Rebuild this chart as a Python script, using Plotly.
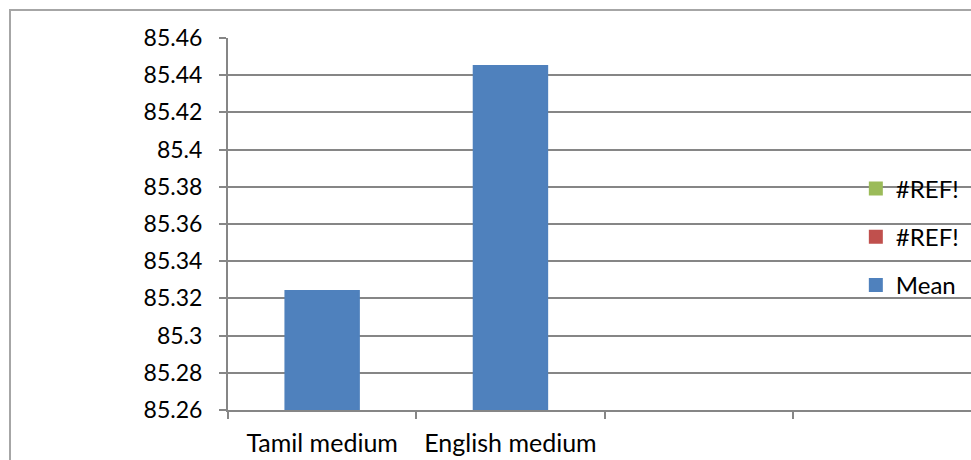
import plotly.graph_objects as go

# Categories along the x axis (the last two slots are empty)
categories = ["Tamil medium", "English medium", " ", "  "]
mean_values = [85.324, 85.445, None, None]

# Series that only appear in the legend
ref_green = [None, None, None, None]
ref_red = [None, None, None, None]

# Y axis ticks
y_tick_values = [85.26, 85.28, 85.30, 85.32, 85.34, 85.36, 85.38, 85.40, 85.42, 85.44, 85.46]
y_tick_labels = ["85.26", "85.28", "85.3", "85.32", "85.34", "85.36", "85.38", "85.4", "85.42", "85.44", "85.46"]

FONT = "Lato"
GRID = "#868686"
GREEN, RED, BLUE = "#9BBB59", "#C0504D", "#4F81BD"

fig = go.Figure()
fig.add_trace(go.Bar(x=categories, y=ref_green, name="#REF!", width=0.39, legendgroup="a",
                     marker=dict(color=GREEN, line=dict(color=GREEN, width=2))))
fig.add_trace(go.Bar(x=categories, y=ref_red, name="#REF!", width=0.39, legendgroup="b",
                     marker=dict(color=RED, line=dict(color=RED, width=2))))
fig.add_trace(go.Bar(x=categories, y=mean_values, name="Mean", width=0.39, legendgroup="c",
                     marker=dict(color=BLUE, line=dict(color=BLUE, width=2))))

W, H = 971, 460
ml, mr, mt, mb = 228, 0, 38, 50
pw, ph = W - ml - mr, H - mt - mb

# outer chart border in paper coordinates
bx0 = (10 - ml) / pw
by1 = (H - 10 - mb) / ph

fig.update_layout(
    width=W, height=H,
    margin=dict(l=ml, r=mr, t=mt, b=mb),
    paper_bgcolor="white", plot_bgcolor="white",
    barmode="overlay",
    font=dict(family=FONT, size=23, color="#000000"),
    showlegend=True,
    legend=dict(x=0.845, y=0.465, xanchor="left", yanchor="middle",
                bgcolor="rgba(0,0,0,0)", traceorder="grouped",
                tracegroupgap=14, font=dict(family=FONT, size=24)),
    xaxis=dict(type="category", categoryorder="array", categoryarray=categories,
               range=[-0.5, -0.5 + pw / 188.3], tickson="boundaries",
               ticks="outside", ticklen=7, tickcolor=GRID, tickwidth=2,
               showgrid=False, showline=True, linecolor=GRID, linewidth=2,
               zeroline=False, ticklabelstandoff=10, tickfont=dict(family=FONT, size=25)),
    yaxis=dict(range=[85.26, 85.46], tickmode="array", tickvals=y_tick_values,
               ticktext=y_tick_labels, ticks="outside", ticklen=7, tickcolor=GRID,
               tickwidth=2, showgrid=True, gridcolor=GRID, gridwidth=2,
               showline=True, linecolor=GRID, linewidth=2, zeroline=False,
               ticklabelstandoff=12, tickfont=dict(family=FONT, size=23)),
    shapes=[dict(type="rect", xref="paper", yref="paper", x0=bx0, x1=1.2, y0=-0.5, y1=by1,
                 line=dict(color="#A6A6A6", width=2), fillcolor="rgba(0,0,0,0)", layer="below")],
)

fig.write_html("out.html")
